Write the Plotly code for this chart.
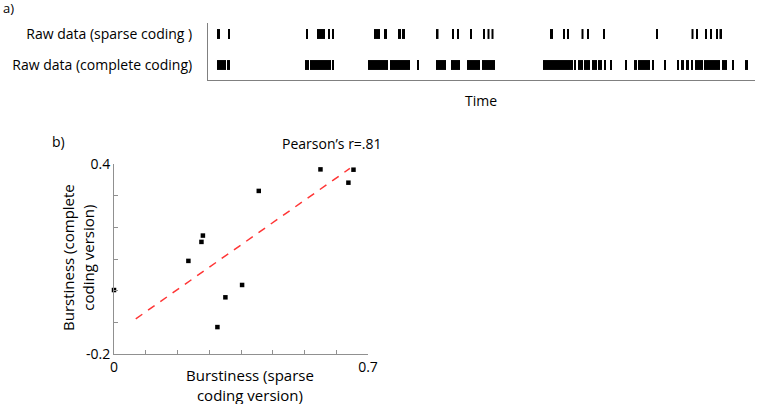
import plotly.graph_objects as go

# ---------------- data ----------------
row_labels = ["Raw data (complete coding)", "Raw data (sparse coding )"]

sparse_on = [9, 20, 98, 109, 120, 124, 166, 176, 190, 194, 228, 244, 249, 262, 275, 279.5, 283.5,
             342, 355, 359, 373.5, 379, 395, 448, 483.5, 488, 497, 502, 508, 511.5]
sparse_off = [12, 21.5, 100, 117, 121.5, 126, 172, 179, 193, 197, 230.5, 246, 250.5, 264, 277, 281.5, 285.5,
              345, 357, 361, 375.5, 381, 397, 450, 485.5, 490, 499, 504, 510, 514]

complete_on = [9, 19, 97, 102, 124, 160, 182, 209, 228, 243, 259, 274, 335, 366, 370, 376, 384, 390, 396,
               402, 417, 426, 430, 444, 456, 469, 473, 478, 483, 487, 496, 514, 524, 537]
complete_off = [18, 22, 101, 123, 126, 180, 202, 210.5, 238, 252, 272, 287, 365, 368, 375, 382, 389, 394, 397.5,
                404, 419, 429, 442, 446, 458, 471, 476, 481, 485, 495, 512, 519, 526, 540]

sparse_burst = [0.0, 0.205, 0.241, 0.245, 0.285, 0.307, 0.353, 0.399, 0.569, 0.646, 0.660]
complete_burst = [0.002, 0.094, 0.154, 0.174, -0.115, -0.021, 0.018, 0.315, 0.383, 0.341, 0.382]

fit_x = [0.06, 0.65]
fit_y = [-0.089, 0.386]

x_ticks = [0, 0.0875, 0.175, 0.2625, 0.35, 0.4375, 0.525, 0.6125, 0.7]
x_ticktext = ["0", "", "", "", "", "", "", "", "0.7"]
y_ticks = [-0.2, -0.1, 0.0, 0.1, 0.2, 0.3, 0.4]
y_ticktext = ["-0.2", "", "", "", "", "", "0.4"]

FONT = "Open Sans"
W, H = 763, 404

fig = go.Figure()

fig.add_trace(go.Bar(
    orientation="h", y=[row_labels[1]] * len(sparse_on), base=sparse_on,
    x=[b - a for a, b in zip(sparse_on, sparse_off)], width=0.32,
    marker=dict(color="black", line=dict(width=0)), xaxis="x", yaxis="y", showlegend=False))
fig.add_trace(go.Bar(
    orientation="h", y=[row_labels[0]] * len(complete_on), base=complete_on,
    x=[b - a for a, b in zip(complete_on, complete_off)], width=0.32,
    marker=dict(color="black", line=dict(width=0)), xaxis="x", yaxis="y", showlegend=False))

fig.add_trace(go.Scatter(
    x=fit_x, y=fit_y, mode="lines", line=dict(color="#ff3535", width=1.5, dash="8px,7px"),
    xaxis="x2", yaxis="y2", showlegend=False))
fig.add_trace(go.Scatter(
    x=sparse_burst, y=complete_burst, mode="markers",
    marker=dict(symbol="square", size=4.5, color="black"),
    xaxis="x2", yaxis="y2", showlegend=False, cliponaxis=False))

def px_x(p):
    return p / W

def px_y(p):
    return 1 - p / H

fig.update_layout(
    template="none",
    width=W, height=H, margin=dict(l=0, r=0, t=0, b=0, autoexpand=False),
    paper_bgcolor="white", plot_bgcolor="white",
    font=dict(family=FONT, size=14, color="black"),
    barmode="overlay", showlegend=False,
    xaxis=dict(domain=[px_x(208), px_x(755)], range=[0, 547], showline=True, linecolor="#808080",
               linewidth=1, showticklabels=False, ticks="", showgrid=False, zeroline=False, anchor="y",
               automargin=False),
    yaxis=dict(domain=[px_y(80), px_y(23)], type="category", categoryorder="array",
               categoryarray=row_labels, range=[-0.484, 1.355], showline=True, linecolor="#808080",
               linewidth=1, ticks="", ticklabelstandoff=12, showgrid=False, zeroline=False, anchor="x",
               tickfont=dict(size=14), automargin=False),
    xaxis2=dict(domain=[px_x(114), px_x(368)], range=[0, 0.7], tickvals=x_ticks, ticktext=x_ticktext,
                showline=True, linecolor="#909090", linewidth=1, ticks="inside", ticklen=4,
                tickcolor="#909090", showgrid=False, zeroline=False, anchor="y2",
                tickfont=dict(size=14), automargin=False),
    yaxis2=dict(domain=[px_y(354), px_y(164)], range=[-0.2, 0.4], tickvals=y_ticks, ticktext=y_ticktext,
                showline=True, linecolor="#909090", linewidth=1, ticks="inside", ticklen=4,
                tickcolor="#909090", showgrid=False, zeroline=False, anchor="x2",
                tickfont=dict(size=14), automargin=False),
)

ann = [
    dict(text="a)", x=px_x(1), y=px_y(8), xanchor="left", yanchor="middle", font=dict(size=13)),
    dict(text="b)", x=px_x(50), y=px_y(141), xanchor="left", yanchor="middle", font=dict(size=14)),
    dict(text="Time", x=px_x(481), y=px_y(100), xanchor="center", yanchor="middle", font=dict(size=14)),
    dict(text="Pearson\u2019s r=.81", x=px_x(332), y=px_y(143), xanchor="center", yanchor="middle",
         font=dict(size=14)),
    dict(text="Burstiness (sparse<br>coding version)", x=px_x(250), y=px_y(385), xanchor="center",
         yanchor="middle", font=dict(size=15)),
    dict(text="Burstiness (complete<br>coding version)", x=px_x(78), y=px_y(258), xanchor="center",
         yanchor="middle", textangle=-90, font=dict(size=15)),
]
for a in ann:
    a.update(xref="paper", yref="paper", showarrow=False)
fig.update_layout(annotations=ann)

post = "document.body.style.margin='0';document.body.style.padding='0';"

fig.write_html("out.html", config={"displayModeBar": False}, post_script=post)
